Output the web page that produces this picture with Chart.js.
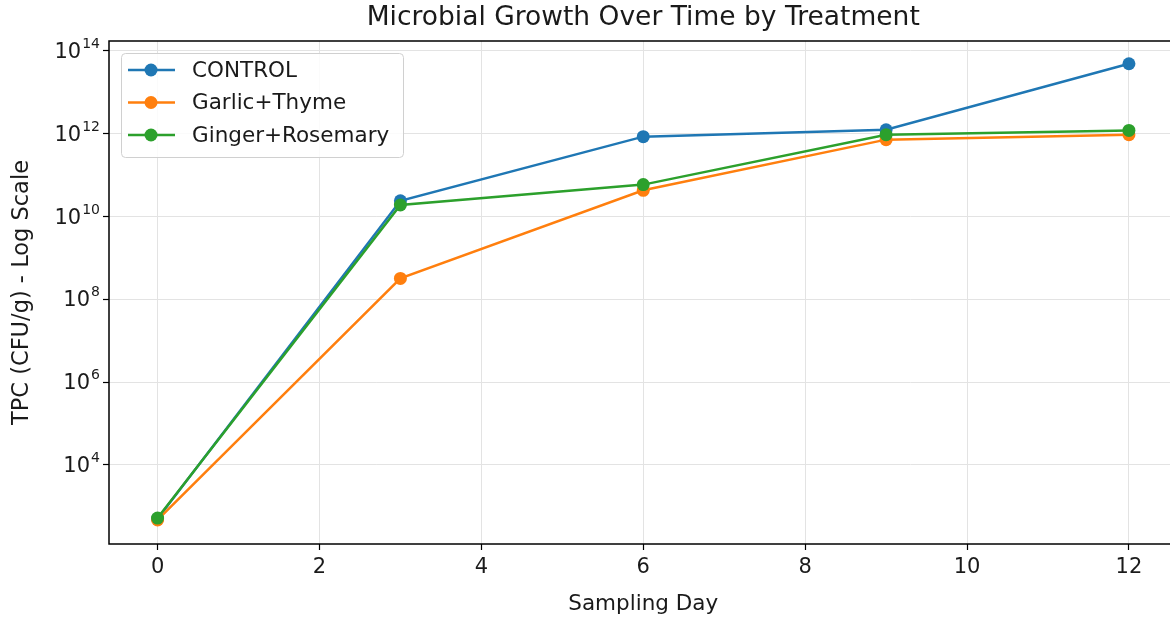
<!DOCTYPE html>
<html>
<head>
<meta charset="utf-8">
<script src="https://cdn.jsdelivr.net/npm/chart.js@4.4.1/dist/chart.umd.min.js"></script>
<style>
  html, body { margin: 0; padding: 0; background: #fff; overflow: hidden; }
  #wrap { width: 1184px; height: 617px; }
</style>
</head>
<body>
<div id="wrap"><canvas id="myChart" width="1184" height="617"></canvas></div>
<script>
// data
var days = [0, 3, 6, 9, 12];
var control = [500, 2.4e10, 8.5e11, 1.25e12, 4.9e13];
var garlicThyme = [470, 3.2e8, 4.3e10, 7.2e11, 9.5e11];
var gingerRosemary = [520, 1.9e10, 5.9e10, 9.5e11, 1.2e12];
var seriesNames = ['CONTROL', 'Garlic+Thyme', 'Ginger+Rosemary'];
var seriesColors = ['#1f77b4', '#ff7f0e', '#2ca02c'];
var xTicks = [0, 2, 4, 6, 8, 10, 12];
var yTickExps = [4, 6, 8, 10, 12, 14];
var chartTitle = 'Microbial Growth Over Time by Treatment';

var font = 'DejaVu Sans';
var textColor = '#1a1a1a';

function makeSet(i, values) {
  return {
    label: seriesNames[i],
    data: days.map(function (d, k) { return {x: d, y: values[k]}; }),
    borderColor: seriesColors[i],
    backgroundColor: seriesColors[i],
    borderWidth: 2.5,
    pointRadius: 6.5,
    pointHoverRadius: 6.5,
    pointBorderWidth: 0,
    order: 3 - i
  };
}

// frame, title over the axes, 10^n labels and legend box inside the axes
var framePlugin = {
  id: 'frame',
  afterDraw: function (chart) {
    var ctx = chart.ctx, a = chart.chartArea;
    ctx.save();
    ctx.strokeStyle = '#000';
    ctx.lineWidth = 1.5;
    ctx.strokeRect(a.left, a.top, a.right - a.left, a.bottom - a.top);

    ctx.fillStyle = textColor;
    ctx.font = '26.5px "' + font + '"';
    ctx.textAlign = 'center';
    ctx.textBaseline = 'middle';
    ctx.fillText(chartTitle, (a.left + a.right) / 2, 18);

    // y tick labels with real superscripts
    var ys = chart.scales.y;
    ctx.textBaseline = 'alphabetic';
    ctx.textAlign = 'right';
    ys.ticks.forEach(function (t) {
      var py = ys.getPixelForValue(t.value);
      var e = String(Math.round(Math.log10(t.value)));
      ctx.font = '14px "' + font + '"';
      var ew = ctx.measureText(e).width;
      ctx.fillText(e, a.left - 9, py - 3);
      ctx.font = '21px "' + font + '"';
      ctx.fillText('10', a.left - 9 - ew - 1, py + 7);
    });

    var bx = a.left + 12, by = a.top + 12, bw = 282, bh = 104;
    ctx.fillStyle = 'rgba(255,255,255,0.85)';
    ctx.strokeStyle = '#d0d0d0';
    ctx.lineWidth = 1;
    ctx.beginPath();
    ctx.roundRect(bx + 0.5, by + 0.5, bw, bh, 4);
    ctx.fill();
    ctx.stroke();

    ctx.font = '21.5px "' + font + '"';
    ctx.textAlign = 'left';
    ctx.textBaseline = 'middle';
    for (var i = 0; i < seriesNames.length; i++) {
      var ry = by + 17 + i * 32.5;
      ctx.strokeStyle = seriesColors[i];
      ctx.lineWidth = 2.5;
      ctx.beginPath();
      ctx.moveTo(bx + 7, ry);
      ctx.lineTo(bx + 54, ry);
      ctx.stroke();
      ctx.fillStyle = seriesColors[i];
      ctx.beginPath();
      ctx.arc(bx + 30, ry, 6.5, 0, Math.PI * 2);
      ctx.fill();
      ctx.fillStyle = textColor;
      ctx.fillText(seriesNames[i], bx + 71, ry + 1);
    }
    ctx.restore();
  }
};

var ctx = document.getElementById('myChart').getContext('2d');
var chart = new Chart(ctx, {
  type: 'line',
  data: {
    datasets: [makeSet(0, control), makeSet(1, garlicThyme), makeSet(2, gingerRosemary)]
  },
  options: {
    responsive: false,
    animation: false,
    layout: { padding: { top: 41, right: 6, left: 0, bottom: 0 } },
    plugins: {
      legend: { display: false },
      tooltip: { enabled: false },
      title: { display: false }
    },
    scales: {
      x: {
        type: 'linear',
        min: -0.6,
        max: 12.6,
        afterBuildTicks: function (s) {
          s.ticks = xTicks.map(function (v) { return {value: v}; });
        },
        ticks: {
          color: textColor,
          padding: 5,
          font: { family: font, size: 21 }
        },
        grid: { color: '#e3e3e3', lineWidth: 1, tickColor: '#000', tickLength: 6, tickWidth: 1.2 },
        border: { display: false },
        title: {
          display: true,
          text: 'Sampling Day',
          color: textColor,
          font: { family: font, size: 21.5 },
          padding: { top: 0, bottom: 0 }
        },
        afterFit: function (s) { s.height = 73; }
      },
      y: {
        type: 'logarithmic',
        min: Math.pow(10, 2.09),
        max: Math.pow(10, 14.24),
        afterBuildTicks: function (s) {
          s.ticks = yTickExps.map(function (e) { return {value: Math.pow(10, e)}; });
        },
        ticks: { display: false },
        grid: { color: '#e3e3e3', lineWidth: 1, tickColor: '#000', tickLength: 6, tickWidth: 1.2 },
        border: { display: false },
        title: {
          display: true,
          text: 'TPC (CFU/g) - Log Scale',
          color: textColor,
          font: { family: font, size: 22.5 },
          padding: { top: 9, bottom: 4 }
        },
        afterFit: function (s) { s.width = 109; }
      }
    }
  },
  plugins: [framePlugin]
});
</script>
</body>
</html>
